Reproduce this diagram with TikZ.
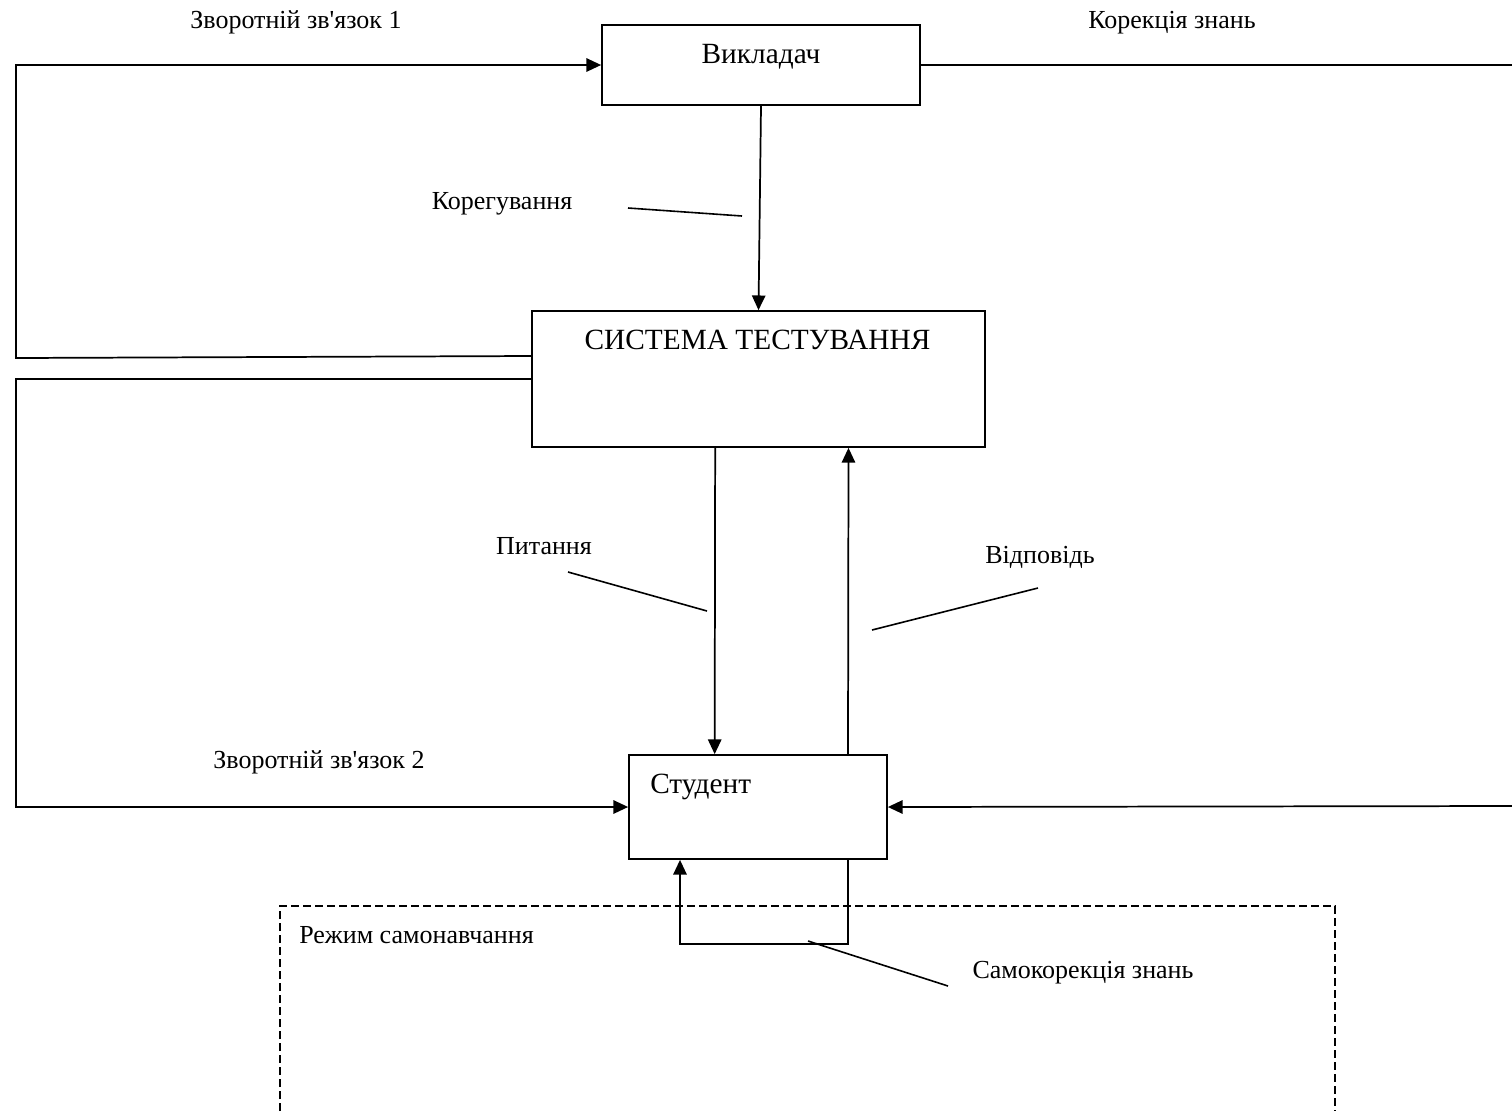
\documentclass[tikz,border=0pt]{standalone}
\usepackage{fontspec}
\setmainfont{Liberation Serif}
\usetikzlibrary{arrows.meta}

\begin{document}
\begin{tikzpicture}[x=0.75pt,y=0.75pt,yscale=-1,xscale=1,
	box/.style={draw,line width=1.3pt,inner sep=0pt},
	lbl/.style={anchor=base,inner sep=0.75pt,font=\fontsize{19.5}{23}\selectfont},
	boxlbl/.style={inner sep=0.75pt,font=\fontsize{22}{26}\selectfont},
	link/.style={line width=1.3pt},
	arr/.style={line width=1.3pt,-{Triangle[length=11pt,width=10pt]}},
	lead/.style={line width=1.2pt}]
	\useasboundingbox (0,0) rectangle (1512,1111);
	\node [box,minimum width=238.5pt,minimum height=60pt] (vykl) at (761,65) {};
	\node [box,minimum width=339.75pt,minimum height=102pt] (sys) at (758.5,379) {};
	\node [box,minimum width=193.5pt,minimum height=78pt] (stud) at (758,807) {};
	\draw (761,63) node [boxlbl,anchor=base] (vykl-t) {Викладач};
	\draw (757.5,349) node [boxlbl,anchor=base] (sys-t) {СИСТЕМА ТЕСТУВАННЯ};
	\draw (649,793) node [boxlbl,anchor=base west] (stud-t) {Студент};
	\draw (296,28) node [lbl] (fb1-t) {Зворотній зв\textquotesingle язок 1};
	\draw (1172,28) node [lbl] (kz-t) {Корекція знань};
	\draw (502,209) node [lbl] (kor-t) {Корегування};
	\draw (544,554) node [lbl] (pyt-t) {Питання};
	\draw (1040,563) node [lbl] (vid-t) {Відповідь};
	\draw (319,768) node [lbl] (fb2-t) {Зворотній зв\textquotesingle язок 2};
	\draw (1083,978) node [lbl] (skz-t) {Самокорекція знань};
	\draw (298,943) node [lbl,anchor=base west] (rezh-t) {Режим самонавчання};
	\coordinate (fb1) at (532,356);
	\coordinate (fb2) at (532,379);
	\coordinate (re1) at (1512,65);
	\coordinate (re2) at (1512,806);
	\draw [arr] (fb1) -- (16,358) |- (vykl.west);
	\draw [arr] (fb2) -- (16,379) |- (stud.west);
	\draw [link] (vykl.east) -- (re1);
	\draw [arr] (re2) -- (stud.east);
	\draw [arr] (vykl.south) -- (sys.north);
	\draw [arr] ([xshift=-32.5pt]sys.south) -- ([xshift=-32.5pt]stud.north);
	\draw [arr] ([xshift=67.5pt]stud.north) -- ([xshift=67.5pt]sys.south);
	\draw [arr] ([xshift=67.5pt]stud.south) -- ++(0,84) -| ([xshift=-58.5pt]stud.south);
	\draw [lead] (628,208) -- (742,216);
	\draw [lead] (568,572) -- (707,611);
	\draw [lead] (872,630) -- (1038,588);
	\draw [lead] (808,941) -- (948,986);
	\draw [line width=1pt,dash pattern=on 6pt off 3pt] (280,1111) -- (280,906) -- (1335,906) -- (1335,1111);
\end{tikzpicture}
\end{document}
